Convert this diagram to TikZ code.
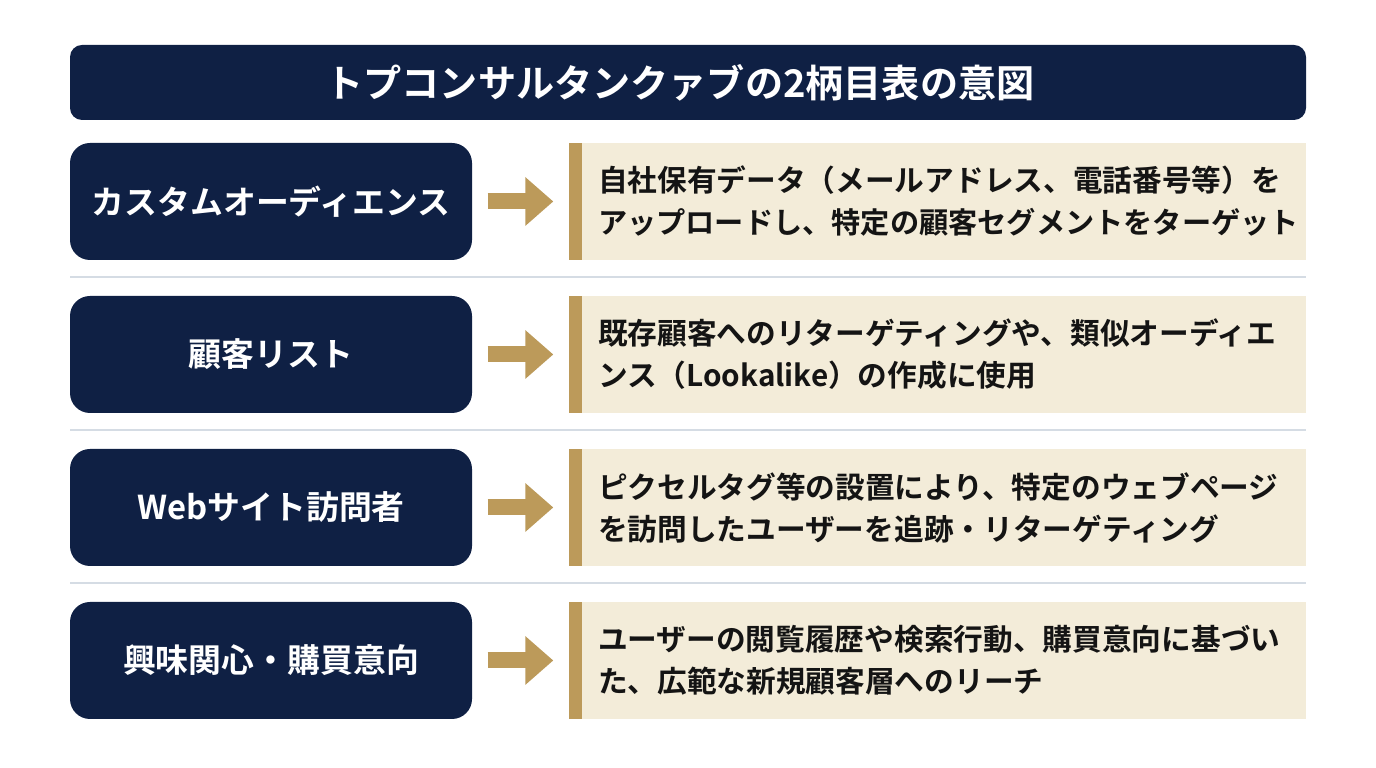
\documentclass[tikz,border=0pt]{standalone}
\usepackage{fontspec}
\setmainfont{Noto Sans CJK JP}[BoldFont={Noto Sans CJK JP Bold}]
\usetikzlibrary{arrows.meta}
\definecolor{navy}{HTML}{0F2044}
\definecolor{gold}{HTML}{BC9A5A}
\definecolor{cream}{HTML}{F3ECD9}
\definecolor{rulegrey}{HTML}{D5DCE4}
\definecolor{ink}{HTML}{141414}
\tikzset{
    titlebar/.style={fill=navy, text=white, rounded corners=0.12cm, minimum width=12.36cm, minimum height=0.75cm, inner sep=0pt, font=\fontsize{10.85pt}{12pt}\selectfont\bfseries},
    termbox/.style={fill=navy, text=white, rounded corners=0.2cm, minimum width=4.02cm, minimum height=1.17cm, inner sep=0pt, font=\fontsize{9.35pt}{11pt}\selectfont\bfseries},
    goldbar/.style={fill=gold, minimum width=0.13cm, minimum height=1.17cm, inner sep=0pt},
    descbox/.style={fill=cream, text=ink, minimum width=7.24cm, minimum height=1.17cm, inner sep=0pt, text width=6.92cm, align=left, font=\fontsize{8.45pt}{0.42cm}\selectfont\bfseries},
    flow/.style={gold, line width=0.16cm, shorten <=0.15cm, shorten >=0.15cm, -{Triangle[length=0.28cm,width=0.47cm]}},
    rowrule/.style={rulegrey, line width=0.02cm}
}
\begin{document}
\begin{tikzpicture}
    \useasboundingbox (0,0) rectangle (13.76,7.68);

    \node[titlebar] (title) at (6.88,6.855) {トプコンサルタンクァブの2柄目表の意図\hspace{0.16cm}\null};

    \node[termbox] (custom) at (2.71,5.665) {カスタムオーディエンス};
    \node[goldbar] (custombar) at (5.755,5.665) {};
    \node[descbox] (customdesc) at (9.44,5.665) {自社保有データ（メールアドレス、電話番号等）を\\{\fontsize{8.31pt}{0.42cm}\selectfont アップロードし、特定の顧客セグメントをターゲット}};
    \draw[flow] (custom) -- (custombar);

    \node[termbox] (list) at (2.71,4.135) {顧客リスト};
    \node[goldbar] (listbar) at (5.755,4.135) {};
    \node[descbox] (listdesc) at (9.44,4.135) {既存顧客へのリターゲティングや、類似オーディエ\\ンス（Lookalike）の作成に使用};
    \draw[flow] (list) -- (listbar);

    \node[termbox] (visitor) at (2.71,2.605) {Webサイト訪問者};
    \node[goldbar] (visitorbar) at (5.755,2.605) {};
    \node[descbox] (visitordesc) at (9.44,2.605) {ピクセルタグ等の設置により、特定のウェブページ\\を訪問したユーザーを追跡・リターゲティング};
    \draw[flow] (visitor) -- (visitorbar);

    \node[termbox] (interest) at (2.71,1.075) {興味関心・購買意向};
    \node[goldbar] (interestbar) at (5.755,1.075) {};
    \node[descbox] (interestdesc) at (9.44,1.075) {ユーザーの閲覧履歴や検索行動、購買意向に基づい\\た、広範な新規顧客層へのリーチ};
    \draw[flow] (interest) -- (interestbar);

    \draw[rowrule] (0.70,4.91) -- (13.06,4.91);
    \draw[rowrule] (0.70,3.38) -- (13.06,3.38);
    \draw[rowrule] (0.70,1.85) -- (13.06,1.85);
\end{tikzpicture}
\end{document}
